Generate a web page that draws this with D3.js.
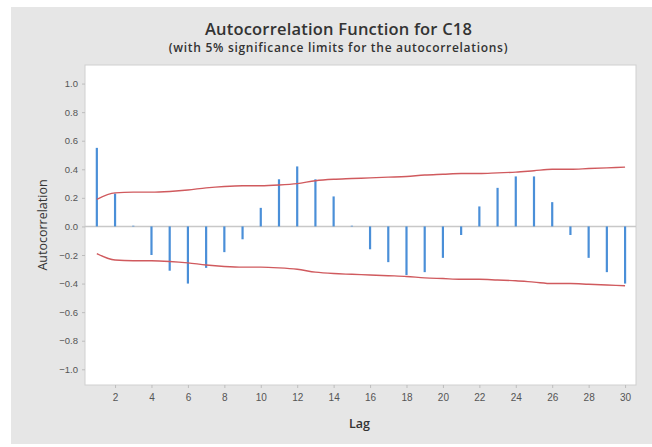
<!DOCTYPE html>
<html>
<head>
<meta charset="utf-8">
<script src="https://cdn.jsdelivr.net/npm/d3@7/dist/d3.min.js"></script>
<style>
html,body{margin:0;padding:0;background:#fff;}
svg{display:block;font-family:"Open Sans","Noto Sans",sans-serif;}
</style>
</head>
<body>
<svg id="chart" width="652" height="447"></svg>
<script>
// Data
const lags = [1,2,3,4,5,6,7,8,9,10,11,12,13,14,15,16,17,18,19,20,21,22,23,24,25,26,27,28,29,30];
const acf = [0.55,0.23,0.005,-0.20,-0.31,-0.40,-0.29,-0.18,-0.09,0.13,0.33,0.42,0.33,0.21,0.005,-0.16,-0.25,-0.34,-0.32,-0.22,-0.06,0.14,0.27,0.35,0.35,0.17,-0.06,-0.22,-0.32,-0.40];
const upperLimit = [0.19,0.235,0.24,0.24,0.245,0.255,0.27,0.28,0.285,0.285,0.29,0.30,0.32,0.33,0.335,0.34,0.345,0.35,0.36,0.365,0.37,0.37,0.375,0.38,0.39,0.40,0.40,0.405,0.41,0.415];
const lowerLimit = [-0.19,-0.235,-0.24,-0.24,-0.245,-0.255,-0.27,-0.28,-0.285,-0.285,-0.29,-0.30,-0.32,-0.33,-0.335,-0.34,-0.345,-0.35,-0.36,-0.365,-0.37,-0.37,-0.375,-0.38,-0.39,-0.40,-0.40,-0.405,-0.41,-0.415];
const xTicks = [2,4,6,8,10,12,14,16,18,20,22,24,26,28,30];
const yTicks = [1.0,0.8,0.6,0.4,0.2,0.0,-0.2,-0.4,-0.6,-0.8,-1.0];
const titleText = "Autocorrelation Function for C18";
const subtitleText = "(with 5% significance limits for the autocorrelations)";
const xLabel = "Lag";
const yLabel = "Autocorrelation";

const svg = d3.select("#chart");
const W = 652, H = 447;
const plot = {left: 85, top: 65, right: 636, bottom: 385};

// outer gray panel
svg.append("rect").attr("x",11).attr("y",7).attr("width",W-11).attr("height",437).attr("fill","#e6e6e6");
// plot area
svg.append("rect").attr("x",plot.left).attr("y",plot.top)
  .attr("width",plot.right-plot.left).attr("height",plot.bottom-plot.top)
  .attr("fill","#fff").attr("stroke","#d0d0d0").attr("stroke-width",1);

const x = d3.scaleLinear().domain([0.35,30.6]).range([plot.left,plot.right]);
const y = d3.scaleLinear().domain([-1.11,1.13]).range([plot.bottom,plot.top]);

// axes
const xAxis = d3.axisBottom(x).tickValues(xTicks).tickFormat(d3.format("d")).tickSize(3).tickPadding(6);
const gx = svg.append("g").attr("transform",`translate(0,${plot.bottom})`).call(xAxis);
gx.select(".domain").remove();
gx.selectAll("line").attr("stroke","#bdbdbd");
gx.selectAll("text").attr("fill","#555").attr("font-size",10);

const yAxis = d3.axisLeft(y).tickValues(yTicks).tickFormat(d3.format(".1f")).tickSize(3).tickPadding(4);
const gy = svg.append("g").attr("transform",`translate(${plot.left},0)`).call(yAxis);
gy.select(".domain").remove();
gy.selectAll("line").attr("stroke","#bdbdbd");
gy.selectAll("text").attr("fill","#555").attr("font-size",9.5);

// zero reference line
svg.append("line").attr("x1",plot.left).attr("x2",plot.right)
  .attr("y1",y(0)).attr("y2",y(0)).attr("stroke","#c8c8c8").attr("stroke-width",1.5);

// bars
svg.append("g").selectAll("line").data(lags).join("line")
  .attr("x1",d=>x(d)).attr("x2",d=>x(d))
  .attr("y1",y(0)).attr("y2",(d,i)=>y(acf[i]))
  .attr("stroke","#4a8fd8").attr("stroke-width",2.2);

// significance limits
const line = d3.line().x(d=>x(d[0])).y(d=>y(d[1])).curve(d3.curveMonotoneX);
svg.append("path").datum(lags.map((l,i)=>[l,upperLimit[i]])).attr("d",line)
  .attr("fill","none").attr("stroke","#d05a5e").attr("stroke-width",1.4);
svg.append("path").datum(lags.map((l,i)=>[l,lowerLimit[i]])).attr("d",line)
  .attr("fill","none").attr("stroke","#d05a5e").attr("stroke-width",1.4);

// titles
svg.append("text").attr("x",(plot.left+plot.right)/2 - 22).attr("y",35).attr("text-anchor","middle")
  .attr("font-size",16.5).attr("font-weight",600).attr("letter-spacing",0.2).attr("fill","#333").text(titleText);
svg.append("text").attr("x",(plot.left+plot.right)/2 - 22).attr("y",52).attr("text-anchor","middle")
  .attr("font-size",12).attr("font-weight",600).attr("letter-spacing",0.7).attr("fill","#333").text(subtitleText);
svg.append("text").attr("x",(plot.left+plot.right)/2 - 1).attr("y",428).attr("text-anchor","middle")
  .attr("font-size",12.5).attr("font-weight",600).attr("fill","#333").text(xLabel);
svg.append("text").attr("transform",`translate(47,${(plot.top+plot.bottom)/2}) rotate(-90)`)
  .attr("text-anchor","middle").attr("font-size",12.5).attr("fill","#333").text(yLabel);
</script>
</body>
</html>
